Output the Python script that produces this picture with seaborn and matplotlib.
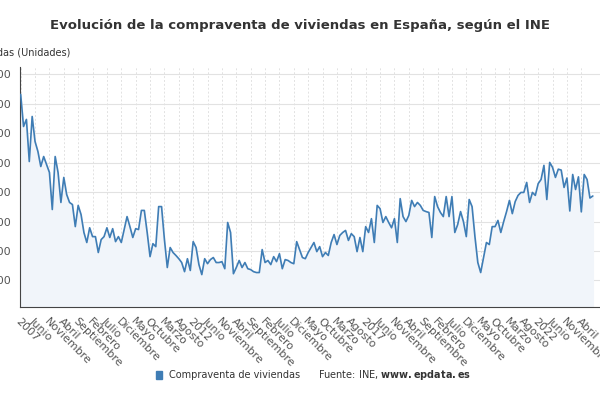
import numpy as np
import pandas as pd
import matplotlib
matplotlib.use("Agg")
import matplotlib.pyplot as plt
import seaborn as sns

# Monthly values from January 2007
values = [
    83200, 72300, 74700, 60400, 75700, 67200, 63800, 58700, 62100, 59400, 56700, 44100,
    62100, 56700, 46500, 55000, 49200, 46500, 45800, 38300, 45500, 42400, 36300, 32900,
    37900, 34900, 34900, 29500, 33900, 34900, 37900, 34600, 37600, 33200, 34900, 32900,
    37300, 41700, 38300, 34600, 37600, 37300, 43800, 43800, 36300, 28100, 32500, 31500,
    45100, 45100, 33900, 24400, 31200, 29500, 28500, 27400, 26100, 23000, 27400, 23400,
    33200, 31200, 25400, 22000, 27400, 25700, 27100, 27800,
    26100, 26100, 26400, 24000, 39700, 36300, 22300, 24400, 26800, 24400, 26100, 24000,
    23700, 23000, 22700, 22700, 30500, 26100, 26800, 25400, 28100, 26400, 29100, 24000,
    27100, 26800, 26100, 25700, 33200, 30500, 27800, 27400, 29500, 31200, 32900, 29800,
    31500, 28100, 29500, 28500, 32900, 35600, 32200, 35300, 36300, 37000, 33600, 35900,
    34900, 29800, 34600, 29800, 38300, 36300, 41000, 32900, 45500, 44400, 39700, 41700,
    39700, 37900, 41000, 32900, 47800, 41700, 40000,
    42100, 47200, 45100, 46500, 45500, 43800, 43400, 43100, 34600, 48500, 45100, 43100,
    41700, 48500, 41700, 48500, 36300, 39000, 43400, 40000, 34900, 47500, 45100, 34900,
    26100, 22700, 27800, 32900, 32200, 38300, 38300, 40400, 36300, 40000, 43400, 47200,
    42700, 46800, 48900, 49900, 49900, 53300, 46500, 49900, 48900, 52900, 54300, 59100,
    47500, 60100, 58400, 55000, 57800, 57500, 51600, 54800, 43600, 56000, 50900, 55200,
    43300, 56000, 54300, 48000, 48700,
]
month_names = ["Enero", "Febrero", "Marzo", "Abril", "Mayo", "Junio", "Julio",
               "Agosto", "Septiembre", "Octubre", "Noviembre", "Diciembre"]
y_ticks = [20000, 30000, 40000, 50000, 60000, 70000, 80000, 90000]

x = np.arange(len(values))
df = pd.DataFrame({"mes": x, "compraventas": values})

sns.set_style("white")
fig = plt.figure(figsize=(6, 4), dpi=100)
ax = fig.add_axes([0.033, 0.2325, 0.967, 0.6])

line_color = "#3f7db5"
ax.fill_between(df["mes"], df["compraventas"], 0, color="#f1f5fa", zorder=1)
sns.lineplot(data=df, x="mes", y="compraventas", ax=ax, color=line_color,
             linewidth=1.2, zorder=3)

ax.set_xlim(-0.3, 201.5)
ax.set_ylim(11000, 92500)

# ticks every 5 months, years shown in January
tick_pos = np.arange(0, len(values), 5)
tick_labels = []
for p in tick_pos:
    yr, mo = 2007 + p // 12, p % 12
    tick_labels.append(str(yr) if mo == 0 else month_names[mo])
ax.set_xticks(tick_pos)
ax.set_xticklabels(tick_labels, rotation=-45, ha="left", rotation_mode="anchor",
                   fontsize=8, color="#555555")
ax.set_yticks(y_ticks)
ax.set_yticklabels([f"{v:,}".replace(",", ".") for v in y_ticks], fontsize=8, color="#555555")
ax.tick_params(axis="both", length=3, color="#666666")

ax.grid(axis="y", color="#e2e2e2", linewidth=0.8, zorder=0)
ax.grid(axis="x", color="#e2e2e2", linewidth=0.7, linestyle=(0, (2, 2)), zorder=0)
ax.set_axisbelow(True)
for s in ["top", "right"]:
    ax.spines[s].set_visible(False)
ax.spines["left"].set_color("#444444")
ax.spines["bottom"].set_color("#444444")
ax.set_xlabel("")
ax.set_ylabel("")

fig.text(0.5, 0.935, "Evolución de la compraventa de viviendas en España, según el INE",
         ha="center", va="center", fontsize=9.5, fontweight="bold", color="#333333")
fig.text(70 / 600, 0.868, "Compraventa de viviendas (Unidades)", ha="right", va="center",
         fontsize=7, color="#333333")

fig.patches.append(plt.Rectangle((156 / 600, 1 - 379 / 400), 6 / 600, 8 / 400,
                                 transform=fig.transFigure, color=line_color))
fig.text(169 / 600, 1 - 375 / 400, "Compraventa de viviendas", va="center",
         fontsize=7, color="#333333")
fig.text(318 / 600, 1 - 375 / 400, "Fuente: INE, $\\bf{www.epdata.es}$", va="center",
         fontsize=7, color="#333333")

fig.savefig("out.png", dpi=100)
